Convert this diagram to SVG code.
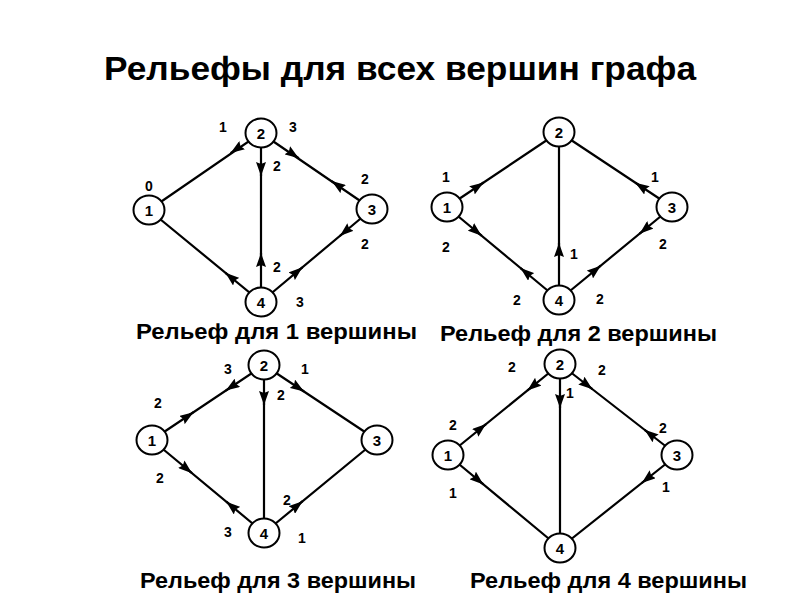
<svg xmlns="http://www.w3.org/2000/svg" width="800" height="600" viewBox="0 0 800 600">
<style>
.e{stroke:#000;stroke-width:2.2;fill:none}
.a{stroke:#000;stroke-width:2.2;fill:none;marker-end:url(#ah)}
.n ellipse{fill:#fff;stroke:#000;stroke-width:2}
.n text{font-family:"Liberation Sans",Arial,sans-serif;font-weight:bold;font-size:15px;text-anchor:middle;fill:#000}
.l text{font-family:"Liberation Sans",Arial,sans-serif;font-weight:bold;font-size:14px;text-anchor:middle;fill:#000}
.t{font-family:"Liberation Sans",Arial,sans-serif;font-weight:bold;fill:#000}
</style>
<defs>
<marker id="ah" markerUnits="userSpaceOnUse" viewBox="0 0 14 10" refX="14" refY="5" markerWidth="14" markerHeight="10" orient="auto">
<path d="M0,0 L14,5 L0,10 L2,5 z" fill="#000"/>
</marker>
</defs>
<rect width="800" height="600" fill="#fff"/>
<text class="t" x="104" y="80" font-size="33" textLength="592" lengthAdjust="spacingAndGlyphs">Рельефы для всех вершин графа</text>

<!-- Graph 1 -->
<g id="g1-edges">
<path class="e" d="M261,133 L149,210 M261,133 L372,209 M261,133 L261,302 M149,210 L261,302 M372,209 L261,302"/>
<path class="a" d="M240.5,146.3 L230.6,153.1"/>
<path class="a" d="M261,163 L261,176"/>
<path class="a" d="M288.9,151.4 L298.8,158.2"/>
<path class="a" d="M341.6,187.9 L331.7,181.1"/>
<path class="a" d="M349,228.3 L339.8,236"/>
<path class="a" d="M261,266 L261,253"/>
<path class="a" d="M293.2,275 L302.4,267.3"/>
<path class="a" d="M234.7,280.4 L225.4,272.8"/>
</g>
<g id="g1-n1" class="n"><ellipse cx="149" cy="210" rx="15.5" ry="14.5"/><text x="149" y="215.5">1</text></g>
<g id="g1-n2" class="n"><ellipse cx="261" cy="133" rx="15.5" ry="14.5"/><text x="261" y="138.5">2</text></g>
<g id="g1-n3" class="n"><ellipse cx="372" cy="209" rx="15.5" ry="14.5"/><text x="372" y="214.5">3</text></g>
<g id="g1-n4" class="n"><ellipse cx="261" cy="302" rx="15.5" ry="14.5"/><text x="261" y="307.5">4</text></g>
<g id="g1-labels" class="l">
<text x="223" y="132">1</text><text x="293" y="132">3</text><text x="149" y="191">0</text>
<text x="277" y="171">2</text><text x="365" y="184">2</text><text x="365" y="249">2</text>
<text x="277" y="272">2</text><text x="300" y="307">3</text>
</g>
<text class="t" x="136" y="339" font-size="22" textLength="281" lengthAdjust="spacingAndGlyphs">Рельеф для 1 вершины</text>

<!-- Graph 2 -->
<g id="g2-edges">
<path class="e" d="M559,132 L447,207 M559,132 L672,207 M559,132 L559,300 M447,207 L559,300 M672,207 L559,300"/>
<path class="a" d="M473.6,189.2 L483.6,182.5"/>
<path class="a" d="M472.4,228.1 L481.6,235.7"/>
<path class="a" d="M645.3,189.3 L635.3,182.7"/>
<path class="a" d="M648.8,226.1 L639.6,233.7"/>
<path class="a" d="M529.8,275.7 L520.5,268.1"/>
<path class="a" d="M559,256 L559,243"/>
<path class="a" d="M591.4,273.3 L600.7,265.7"/>
</g>
<g id="g2-n1" class="n"><ellipse cx="447" cy="207" rx="15.5" ry="14.5"/><text x="447" y="212.5">1</text></g>
<g id="g2-n2" class="n"><ellipse cx="559" cy="132" rx="15.5" ry="14.5"/><text x="559" y="137.5">2</text></g>
<g id="g2-n3" class="n"><ellipse cx="672" cy="207" rx="15.5" ry="14.5"/><text x="672" y="212.5">3</text></g>
<g id="g2-n4" class="n"><ellipse cx="559" cy="300" rx="15.5" ry="14.5"/><text x="559" y="305.5">4</text></g>
<g id="g2-labels" class="l">
<text x="446" y="182">1</text><text x="446" y="252">2</text><text x="655" y="182">1</text>
<text x="663" y="249">2</text><text x="574" y="259">1</text><text x="517" y="305">2</text>
<text x="600" y="304">2</text>
</g>
<text class="t" x="440" y="341" font-size="22" textLength="277" lengthAdjust="spacingAndGlyphs">Рельеф для 2 вершины</text>

<!-- Graph 3 -->
<g id="g3-edges">
<path class="e" d="M264,365 L152,440 M264,365 L377,440 M264,365 L264,533 M152,440 L264,533 M377,440 L264,533"/>
<path class="a" d="M235.7,383.9 L225.8,390.6"/>
<path class="a" d="M264,392 L264,405"/>
<path class="a" d="M294,384.9 L304,391.5"/>
<path class="a" d="M183.6,418.9 L193.5,412.2"/>
<path class="a" d="M182.8,465.5 L192,473.2"/>
<path class="a" d="M235.5,509.4 L226.3,501.7"/>
<path class="a" d="M293.3,508.8 L302.6,501.2"/>
</g>
<g id="g3-n1" class="n"><ellipse cx="152" cy="440" rx="15.5" ry="14.5"/><text x="152" y="445.5">1</text></g>
<g id="g3-n2" class="n"><ellipse cx="264" cy="365" rx="15.5" ry="14.5"/><text x="264" y="370.5">2</text></g>
<g id="g3-n3" class="n"><ellipse cx="377" cy="440" rx="15.5" ry="14.5"/><text x="377" y="445.5">3</text></g>
<g id="g3-n4" class="n"><ellipse cx="264" cy="533" rx="15.5" ry="14.5"/><text x="264" y="538.5">4</text></g>
<g id="g3-labels" class="l">
<text x="228" y="374">3</text><text x="305" y="374">1</text><text x="158" y="408">2</text>
<text x="281" y="400">2</text><text x="160" y="483">2</text><text x="287" y="505">2</text>
<text x="228" y="537">3</text><text x="302" y="543">1</text>
</g>
<text class="t" x="140" y="588" font-size="22" textLength="276" lengthAdjust="spacingAndGlyphs">Рельеф для 3 вершины</text>

<!-- Graph 4 -->
<g id="g4-edges">
<path class="e" d="M560,364 L448,455 M560,364 L677,455 M560,364 L560,548 M448,455 L560,548 M677,455 L560,548"/>
<path class="a" d="M536.7,382.9 L527.4,390.5"/>
<path class="a" d="M560,395 L560,408"/>
<path class="a" d="M582.9,381.8 L592.4,389.2"/>
<path class="a" d="M476.7,431.7 L486,424.1"/>
<path class="a" d="M474.2,476.7 L483.4,484.4"/>
<path class="a" d="M654.1,437.2 L644.6,429.8"/>
<path class="a" d="M651.2,475.5 L641.8,483"/>
</g>
<g id="g4-n1" class="n"><ellipse cx="448" cy="455" rx="15.5" ry="14.5"/><text x="448" y="460.5">1</text></g>
<g id="g4-n2" class="n"><ellipse cx="560" cy="364" rx="15.5" ry="14.5"/><text x="560" y="369.5">2</text></g>
<g id="g4-n3" class="n"><ellipse cx="677" cy="455" rx="15.5" ry="14.5"/><text x="677" y="460.5">3</text></g>
<g id="g4-n4" class="n"><ellipse cx="560" cy="548" rx="15.5" ry="14.5"/><text x="560" y="553.5">4</text></g>
<g id="g4-labels" class="l">
<text x="512" y="372">2</text><text x="602" y="375">2</text><text x="570" y="398">1</text>
<text x="453" y="430">2</text><text x="663" y="433">2</text><text x="453" y="498">1</text>
<text x="666" y="492">1</text>
</g>
<text class="t" x="470" y="588" font-size="22" textLength="277" lengthAdjust="spacingAndGlyphs">Рельеф для 4 вершины</text>
</svg>
